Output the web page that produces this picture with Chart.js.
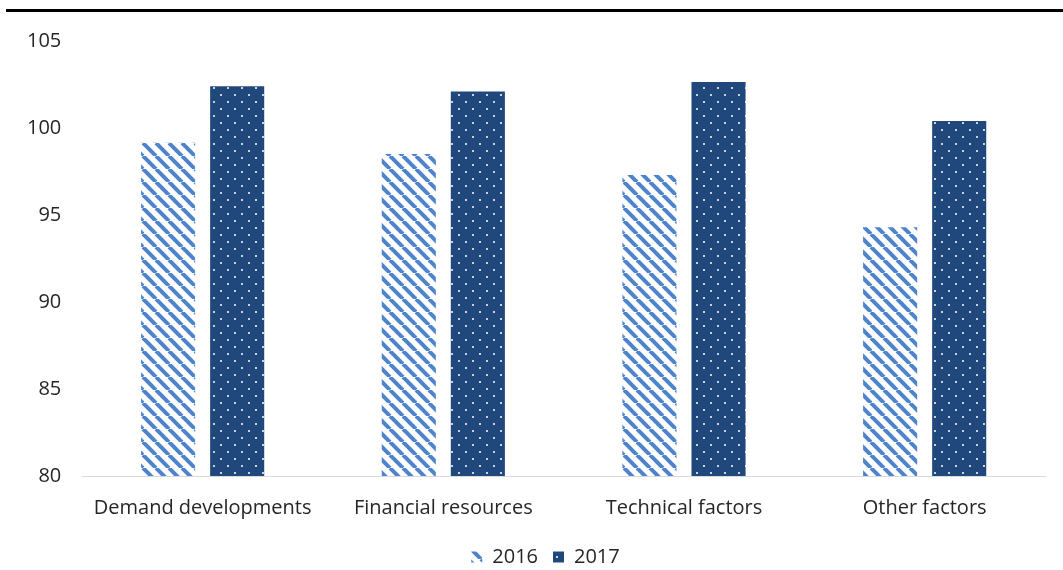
<!DOCTYPE html>
<html>
<head>
<meta charset="utf-8">
<script src="https://cdn.jsdelivr.net/npm/chart.js@4/dist/chart.umd.min.js"></script>
<style>
  html, body { margin: 0; padding: 0; background: #fff; }
  #wrap { position: relative; width: 1063px; height: 570px; }
  #rule { position: absolute; left: 6px; right: 0; top: 9px; border-top: 3px solid #000; }
</style>
</head>
<body>
<div id="wrap">
  <div id="rule"></div>
  <canvas id="chart" width="1063" height="570"></canvas>
</div>
<script>
const categories = ['Demand developments', 'Financial resources', 'Technical factors', 'Other factors'];
const values2016 = [99.15, 98.5, 97.3, 94.3];
const values2017 = [102.4, 102.1, 102.65, 100.4];
const seriesLabels = ['2016', '2017'];

// diagonal light-blue stripes on white
function stripePattern() {
  const c = document.createElement('canvas');
  const s = 13;
  c.width = s; c.height = s;
  const g = c.getContext('2d');
  g.fillStyle = '#fff';
  g.fillRect(0, 0, s, s);
  g.strokeStyle = '#4e84cc';
  g.lineWidth = 4;
  for (const off of [-s, 0, s]) {
    g.beginPath();
    g.moveTo(off, 0);
    g.lineTo(off + s, s);
    g.stroke();
  }
  return g.createPattern(c, 'repeat');
}

// navy fill with small staggered white dots
function dotPattern() {
  const c = document.createElement('canvas');
  const s = 14;
  c.width = s; c.height = s;
  const g = c.getContext('2d');
  g.fillStyle = '#20487c';
  g.fillRect(0, 0, s, s);
  g.fillStyle = '#c9d3e0';
  g.fillRect(3, 3, 2, 2);
  g.fillRect(10, 10, 2, 2);
  return g.createPattern(c, 'repeat');
}

const font = { family: 'Open Sans', size: 20 };
const textColor = '#262626';

// nudge the legend row a little right of the canvas centre
const legendShift = {
  id: 'legendShift',
  afterLayout(chart) {
    chart.legend.left += 20;
    chart.legend.right += 20;
  }
};

const ctx = document.getElementById('chart').getContext('2d');
new Chart(ctx, {
  type: 'bar',
  data: {
    labels: categories,
    datasets: [{
      label: seriesLabels[0],
      data: values2016,
      backgroundColor: stripePattern(),
      borderWidth: 0
    }, {
      label: seriesLabels[1],
      data: values2017,
      backgroundColor: dotPattern(),
      borderWidth: 0
    }]
  },
  options: {
    responsive: false,
    animation: false,
    layout: { padding: { top: 41, left: 6, right: 18, bottom: -7 } },
    datasets: {
      bar: { categoryPercentage: 0.574, barPercentage: 0.783 }
    },
    scales: {
      x: {
        grid: { display: false, drawTicks: false },
        border: { color: '#d9d9d9', width: 1 },
        ticks: { color: textColor, font: font, padding: 20 },
        afterFit(scale) {
          // long first/last labels shouldn't shrink the plot
          scale.paddingLeft = 0;
          scale.paddingRight = 0;
          scale.height -= 8;
        }
      },
      y: {
        min: 80,
        max: 105,
        grid: { display: false, drawTicks: false },
        border: { display: false },
        ticks: { stepSize: 5, color: textColor, font: font, padding: 21 }
      }
    },
    plugins: {
      legend: {
        position: 'bottom',
        labels: {
          boxWidth: 11,
          boxHeight: 11,
          padding: 15,
          color: textColor,
          font: font
        }
      },
      tooltip: { enabled: false }
    }
  },
  plugins: [legendShift]
});
</script>
</body>
</html>
